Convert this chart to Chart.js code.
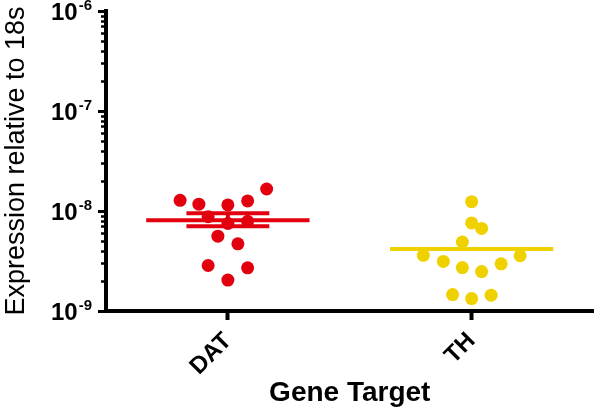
<!DOCTYPE html>
<html>
<head>
<meta charset="utf-8">
<script src="https://cdn.jsdelivr.net/npm/chart.js@4/dist/chart.umd.min.js"></script>
<style>
  body { margin: 0; background: #fff; }
  canvas { display: block; }
</style>
</head>
<body>
<canvas id="grafico" width="600" height="410"></canvas>
<script>
const categories = ['DAT', 'TH'];
const colors = ['#e2000f', '#efd100'];

// values, jitter in category units (column spread of the dots)
const datValues = [1.28e-8, 1.17e-8, 1.15e-8, 1.26e-8, 1.66e-8, 8.76e-9, 7.5e-9, 7.9e-9, 5.6e-9, 4.7e-9, 2.85e-9, 2.7e-9, 2.04e-9];
const datJitter = [-0.196, -0.119, 0, 0.081, 0.159, -0.081, 0, 0.081, -0.041, 0.041, -0.081, 0.081, 0];
const thValues = [1.24e-8, 7.6e-9, 6.7e-9, 4.9e-9, 3.6e-9, 3.13e-9, 2.72e-9, 2.48e-9, 2.96e-9, 3.57e-9, 1.46e-9, 1.33e-9, 1.44e-9];
const thJitter = [0, 0, 0.041, -0.038, -0.198, -0.116, -0.038, 0.041, 0.121, 0.199, -0.078, 0, 0.08];

const means = [8.1e-9, 4.16e-9];
const errUpper = [9.48e-9, null];
const errLower = [7.05e-9, null];

const yTickValues = [1e-9, 1e-8, 1e-7, 1e-6];
const yTickExponents = ['-9', '-8', '-7', '-6'];

const meanHalf = 0.335;
const capHalf = 0.17;
const FONT = "'Liberation Sans', Arial, sans-serif";

const groups = [
    { values: datValues, jitter: datJitter },
    { values: thValues, jitter: thJitter }
];

const datasets = [];
groups.forEach(function (g, i) {
    const seg = function (data) {
        return {
            data: data, showLine: true, pointRadius: 0, borderWidth: 4,
            borderColor: colors[i], borderCapStyle: 'butt', fill: false
        };
    };
    datasets.push(seg([{ x: i - meanHalf, y: means[i] }, { x: i + meanHalf, y: means[i] }]));
    if (errUpper[i] !== null) {
        datasets.push(seg([{ x: i - capHalf, y: errUpper[i] }, { x: i + capHalf, y: errUpper[i] }]));
        datasets.push(seg([{ x: i - capHalf, y: errLower[i] }, { x: i + capHalf, y: errLower[i] }]));
        datasets.push(seg([{ x: i, y: errLower[i] }, { x: i, y: errUpper[i] }]));
    }
    datasets.push({
        data: g.values.map(function (v, k) { return { x: i + g.jitter[k], y: v }; }),
        pointRadius: 6.5,
        pointBackgroundColor: colors[i],
        pointBorderWidth: 0,
        showLine: false
    });
});

// minor ticks and 10^n labels for the log axis
const logAxisPlugin = {
    id: 'logAxis',
    afterDraw: function (chart) {
        const y = chart.scales.y;
        const ctx = chart.ctx;
        const axisX = chart.chartArea.left;
        ctx.save();
        ctx.strokeStyle = '#000';
        ctx.lineWidth = 2.5;
        for (let e = -9; e < -6; e++) {
            for (let d = 2; d <= 9; d++) {
                const py = Math.round(y.getPixelForValue(d * Math.pow(10, e))) + 0.5;
                ctx.beginPath();
                ctx.moveTo(axisX - 5, py);
                ctx.lineTo(axisX, py);
                ctx.stroke();
            }
        }
        ctx.fillStyle = '#000';
        ctx.textBaseline = 'middle';
        ctx.textAlign = 'right';
        yTickValues.forEach(function (v, k) {
            const py = y.getPixelForValue(v);
            const right = axisX - 14;
            ctx.font = 'bold 15px ' + FONT;
            const w = ctx.measureText(yTickExponents[k]).width;
            ctx.fillText(yTickExponents[k], right, py - 5);
            ctx.font = 'bold 24px ' + FONT;
            ctx.fillText('10', right - w - 1, py + 2);
        });
        ctx.restore();
    }
};

const ctx = document.getElementById('grafico').getContext('2d');
new Chart(ctx, {
    type: 'scatter',
    data: { datasets: datasets },
    plugins: [logAxisPlugin],
    options: {
        responsive: false,
        animation: false,
        devicePixelRatio: 1,
        layout: { padding: { top: 11, right: 0, left: 0, bottom: 0 } },
        plugins: { legend: { display: false }, tooltip: { enabled: false } },
        scales: {
            x: {
                type: 'linear',
                position: 'bottom',
                min: -0.5,
                max: 1.5,
                border: { width: 4, color: '#000' },
                grid: { drawOnChartArea: false, tickLength: 9, tickWidth: 4, tickColor: '#000' },
                ticks: {
                    minRotation: 45,
                    maxRotation: 45,
                    color: '#000',
                    padding: 7,
                    font: { family: FONT, size: 24, weight: 'bold' },
                    callback: function (value) { return categories[value]; }
                },
                title: {
                    display: true,
                    text: 'Gene Target',
                    color: '#000',
                    padding: 0,
                    font: { family: FONT, size: 28, weight: 'bold' }
                },
                afterBuildTicks: function (scale) {
                    scale.ticks = categories.map(function (c, i) { return { value: i }; });
                },
                afterFit: function (scale) { scale.height = 99; }
            },
            y: {
                type: 'logarithmic',
                position: 'left',
                min: 1e-9,
                max: 1e-6,
                border: { width: 4, color: '#000' },
                grid: { drawOnChartArea: false, tickLength: 8, tickWidth: 3, tickColor: '#000' },
                ticks: { display: false },
                title: {
                    display: true,
                    text: 'Expression relative to 18s',
                    color: '#000',
                    padding: 0,
                    font: { family: FONT, size: 27, weight: 'normal' }
                },
                afterBuildTicks: function (scale) {
                    scale.ticks = yTickValues.map(function (v) { return { value: v, major: true }; });
                },
                afterFit: function (scale) { scale.width = 106; }
            }
        }
    }
});
</script>
</body>
</html>
